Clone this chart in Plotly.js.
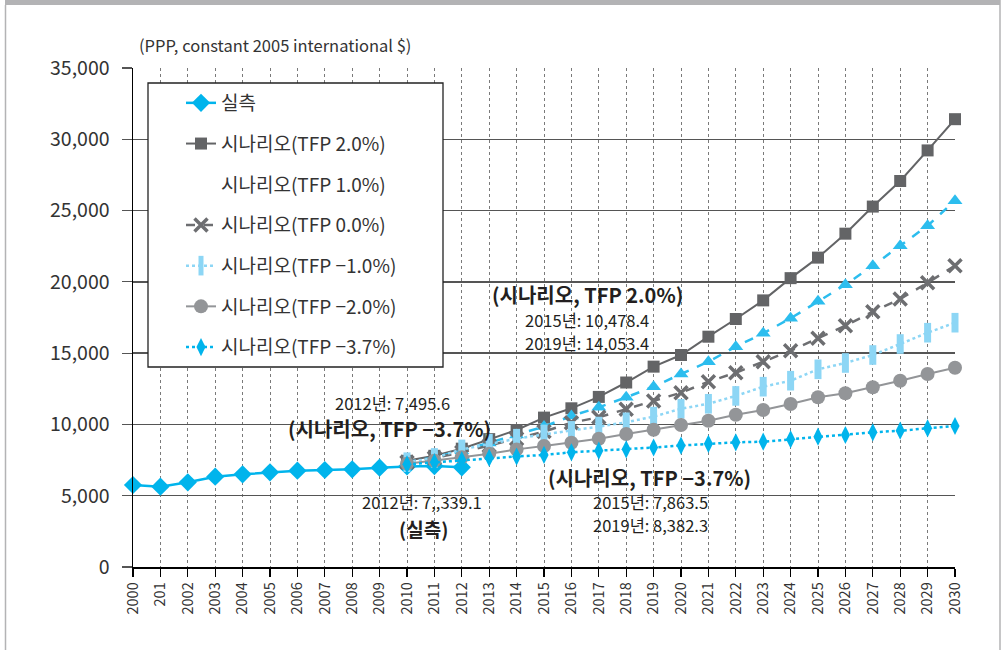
<!DOCTYPE html>
<html>
<head>
<meta charset="utf-8">
<script src="https://cdn.plot.ly/plotly-3.0.1.min.js"></script>
<style>html,body{margin:0;padding:0;background:#fff;}#chart{width:1003px;height:650px;}</style>
</head>
<body>
<div id="chart"></div>
<script>
// ---- data ----
const years = [2000,2001,2002,2003,2004,2005,2006,2007,2008,2009,2010,2011,2012,2013,2014,2015,2016,2017,2018,2019,2020,2021,2022,2023,2024,2025,2026,2027,2028,2029,2030];
const tickLabels = ["2000","201","2002","2003","2004","2005","2006","2007","2008","2009","2010","2011","2012","2013","2014","2015","2016","2017","2018","2019","2020","2021","2022","2023","2024","2025","2026","2027","2028","2029","2030"];

const actualYears = [2000,2001,2002,2003,2004,2005,2006,2007,2008,2009,2010,2011,2012];
const actual = [5752,5632,5941,6334,6502,6642,6754,6804,6853,6965,7050,7080,6990];

const scenYears = [2010,2011,2012,2013,2014,2015,2016,2017,2018,2019,2020,2021,2022,2023,2024,2025,2026,2027,2028,2029,2030];
const tfp20  = [7450,7800,8300,8970,9609,10478.4,11131,11930,12940,14053.4,14870,16153,17395,18700,20260,21700,23380,25280,27074,29220,31410];
const tfp10  = [7350,7700,8150,8700,9250,9850,10591,11201,11903,12650,13537,14400,15452,16392,17444,18636,19800,21133,22536,23939,25692];
const tfp00  = [7350,7650,8050,8500,9000,9500,10121,10500,11061,11650,12226,12997,13628,14400,15172,16041,16925,17907,18798,19941,21133];
const tfpm10 = [7350,7650,8250,8650,9000,9300,9550,9850,10150,10550,11100,11450,12000,12646,13067,13866,14310,14870,15641,16434,17135];
const tfpm20 = [7250,7450,7700,7950,8250,8487,8718,9000,9329,9630,9960,10261,10680,11012,11433,11903,12183,12604,13067,13537,13979];
const tfpm37 = [7200,7350,7495.6,7650,7750,7863.5,8045,8158,8255,8382.3,8520,8640,8746,8789,8957,9139,9258,9448,9560,9729,9890];

const names = ["실측","시나리오(TFP 2.0%)","시나리오(TFP 1.0%)","시나리오(TFP 0.0%)","시나리오(TFP −1.0%)","시나리오(TFP −2.0%)","시나리오(TFP −3.7%)"];
const yTickVals = [0,5000,10000,15000,20000,25000,30000,35000];

// ---- layout helpers (pixel -> axis position for text placement) ----
const L = 133, T = 68, W = 822, H = 499;
const px2x = p => 2000 + (p - L) / W * 30;
const py2y = p => (T + H - p) / H * 35000;
const ppx = p => (p - L) / W;
const ppy = p => (T + H - p) / H;

const FONT = "Noto Sans CJK KR, Noto Sans, sans-serif";

const traces = [
  {x: actualYears, y: actual, name: names[0], mode: 'lines+markers', legendgroup:'a',
   line:{color:'#00b4ec', width:2.5}, marker:{symbol:'diamond', size:14, color:'#00b4ec'}},
  {x: scenYears, y: tfp20, name: names[1], mode: 'lines+markers', legendgroup:'b',
   line:{color:'#636466', width:2}, marker:{symbol:'square', size:12, color:'#636466'}},
  {x: [null], y: [null], name: names[2], mode: 'lines', legendgroup:'c',
   line:{color:'rgba(0,0,0,0)', width:0}, hoverinfo:'skip'},
  {x: scenYears, y: tfp10, name: names[2], mode: 'lines+markers', showlegend:false,
   line:{color:'#2cbdee', width:2.5, dash:'dash'}, marker:{symbol:'triangle-up', size:13, color:'#2cbdee'}},
  {x: scenYears, y: tfp00, name: names[3], mode: 'lines+markers', legendgroup:'d',
   line:{color:'#6d6e71', width:2.5, dash:'dash'}, marker:{symbol:'x-thin', size:13, color:'#6d6e71', line:{color:'#6d6e71', width:3.5}}},
  {x: scenYears, y: tfpm10, name: names[4], mode: 'lines+markers', legendgroup:'e',
   line:{color:'#8dd6f5', width:2.5, dash:'dot'}, marker:{symbol:'line-ns', size:14, color:'#8dd6f5', line:{color:'#8dd6f5', width:7}}},
  {x: scenYears, y: tfpm20, name: names[5], mode: 'lines+markers', legendgroup:'f',
   line:{color:'#939598', width:2}, marker:{symbol:'circle', size:14, color:'#939598'}},
  {x: scenYears, y: tfpm37, name: names[6], mode: 'lines+markers', legendgroup:'g',
   line:{color:'#00b4ec', width:2.5, dash:'dot'}, marker:{symbol:'diamond-tall', size:13, color:'#00b4ec'}}
];
traces.forEach(t => t.cliponaxis = false);

function ann(text, cx, cy, size, bold) {
  return {text: bold ? '<b>' + text + '</b>' : text, x: px2x(cx), y: py2y(cy), xref:'x', yref:'y',
          showarrow:false, xanchor:'center', yanchor:'middle',
          font:{family:FONT, size:size, color:'#231f20'}};
}

const layout = {
  width: 1003, height: 650,
  margin: {l: L, r: 1003 - L - W, t: T, b: 650 - T - H, pad: 0},
  paper_bgcolor: '#fff', plot_bgcolor: '#fff',
  font: {family: FONT, color: '#333'},
  showlegend: true,
  legend: {x: ppx(181), y: ppy(84), xanchor:'left', yanchor:'top', bgcolor:'rgba(0,0,0,0)',
           borderwidth:0, font:{family:FONT, size:19, color:'#333'}, tracegroupgap: 13, traceorder:'grouped'},
  xaxis: {range:[2000,2030], tickvals: years, ticktext: tickLabels, tickangle: -90,
          showgrid:true, gridcolor:'#7a7a7a', gridwidth:1, griddash:'dot',
          showline:true, linecolor:'#000', linewidth:1.5, zeroline:false,
          ticks:'outside', ticklen:8, tickcolor:'#000', tickwidth:1.2,
          tickfont:{family:FONT, size:14.5, color:'#333'}, fixedrange:true},
  yaxis: {range:[0,35000], tickvals: yTickVals, tickformat:',d',
          showgrid:true, gridcolor:'#555', gridwidth:1.3,
          showline:true, linecolor:'#000', linewidth:1.5, zeroline:false,
          ticks:'outside', ticklen:10, tickcolor:'#555', tickwidth:1.2,
          ticklabelstandoff: 8,
          tickfont:{family:FONT, size:19.5, color:'#333'}, fixedrange:true},
  shapes: [
    // legend box
    {type:'rect', xref:'paper', yref:'paper', x0: ppx(148), x1: ppx(443), y0: ppy(367), y1: ppy(83),
     line:{color:'#222', width:1.3}, fillcolor:'#fff', layer:'above'},
    // outer frame
    {type:'rect', xref:'paper', yref:'paper', x0: ppx(5), x1: ppx(1000), y0: ppy(0), y1: ppy(5),
     line:{width:0}, fillcolor:'#b3b3b5', layer:'above'},
    {type:'line', xref:'paper', yref:'paper', x0: ppx(5.5), x1: ppx(5.5), y0: ppy(5), y1: ppy(650),
     line:{color:'#b3b3b5', width:1.5}, layer:'above'},
    {type:'line', xref:'paper', yref:'paper', x0: ppx(1000), x1: ppx(1000), y0: ppy(0), y1: ppy(650),
     line:{color:'#b3b3b5', width:1.5}, layer:'above'}
  ],
  annotations: [
    {text:'(PPP, constant 2005 international $)', xref:'paper', yref:'paper', x: ppx(137), y: ppy(45),
     xanchor:'left', yanchor:'middle', showarrow:false, font:{family:FONT, size:16.5, color:'#333'}},
    ann('(시나리오, TFP 2.0%)', 587, 294, 20, true),
    ann('2015년: 10,478.4', 587, 320, 16.5, false),
    ann('2019년: 14,053.4', 587, 343, 16.5, false),
    ann('2012년: 7,495.6', 392, 403, 16.5, false),
    ann('(시나리오, TFP −3.7%)', 389, 428, 20, true),
    ann('(시나리오, TFP −3.7%)', 649, 477, 20, true),
    ann('2015년: 7,863.5', 650, 502, 16.5, false),
    ann('2019년: 8,382.3', 650, 525, 16.5, false),
    ann('2012년: 7,,339.1', 422, 502, 16.5, false),
    ann('(실측)', 423, 528, 19, true)
  ]
};

Plotly.newPlot('chart', traces, layout, {staticPlot:true, displayModeBar:false});
</script>
</body>
</html>
